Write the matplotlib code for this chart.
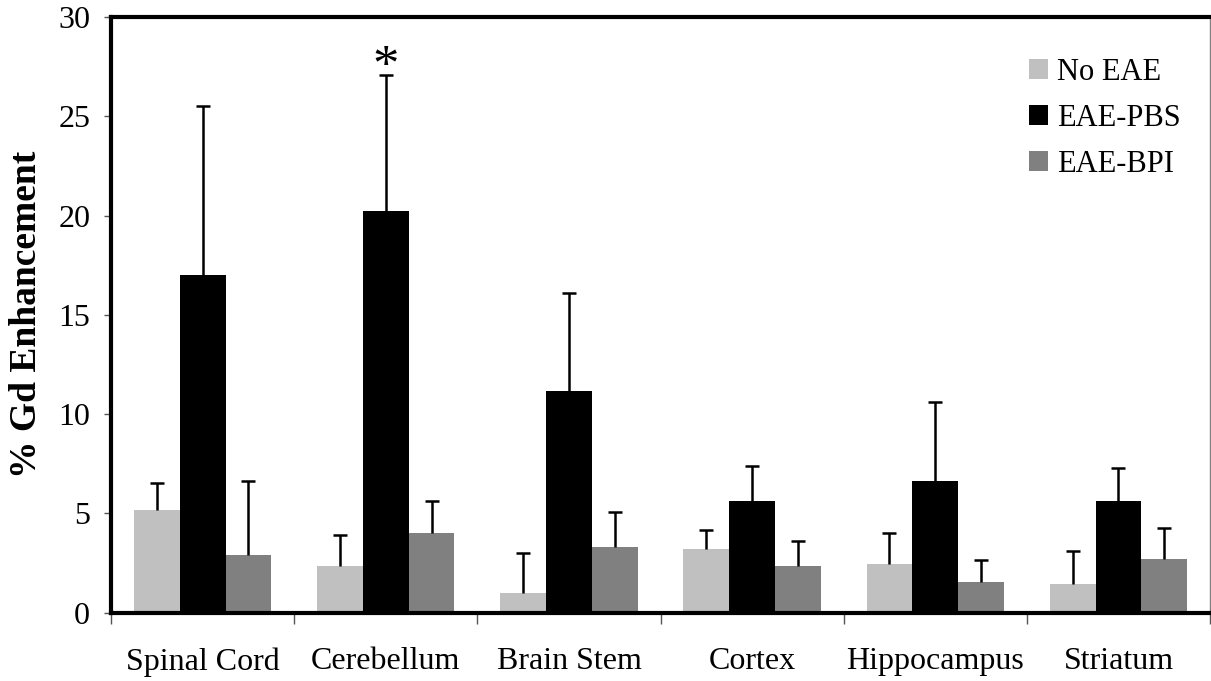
import matplotlib.pyplot as plt
import numpy as np

plt.rcParams['font.family'] = ['Liberation Serif', 'DejaVu Serif']

regions = ["Spinal Cord", "Cerebellum", "Brain Stem", "Cortex", "Hippocampus", "Striatum"]
groups = ["No EAE", "EAE-PBS", "EAE-BPI"]

# mean % Gd enhancement per region
no_eae = [5.17, 2.35, 0.99, 3.21, 2.45, 1.44]
eae_pbs = [17.0, 20.22, 11.16, 5.62, 6.63, 5.62]
eae_bpi = [2.90, 4.01, 3.31, 2.35, 1.55, 2.70]

# upper error bars (SD)
no_eae_err = [1.34, 1.54, 2.03, 0.97, 1.56, 1.68]
eae_pbs_err = [8.54, 6.86, 4.94, 1.76, 3.97, 1.68]
eae_bpi_err = [3.73, 1.63, 1.74, 1.26, 1.10, 1.58]

means = [no_eae, eae_pbs, eae_bpi]
errs = [no_eae_err, eae_pbs_err, eae_bpi_err]
colors = ['#c0c0c0', '#000000', '#808080']

fig = plt.figure(figsize=(12.11, 6.81), dpi=100)
ax = fig.add_axes([0.0917, 0.1003, 0.9075, 0.8747])

x = np.arange(len(regions)) + 0.5
w = 0.25
for k in range(3):
    pos = x + (k - 1) * w
    m = np.array(means[k])
    top = m + np.array(errs[k])
    ax.bar(pos, m, width=w, color=colors[k], label=groups[k], zorder=2)
    # only the upper half of each error bar is drawn
    ax.vlines(pos, m, top, colors='black', linewidth=1.8, zorder=3)
    ax.plot(pos, top, linestyle='none', marker='_', markersize=10,
            markeredgewidth=1.8, color='black', zorder=3)

# significance marker over cerebellum EAE-PBS
ax.annotate('*', xy=(x[1], eae_pbs[1] + eae_pbs_err[1]), xytext=(0, -12),
            textcoords='offset points', ha='center', va='bottom', fontsize=38)

ax.set_xlim(0, len(regions))
ax.set_ylim(0, 30)
ax.set_yticks(np.arange(0, 31, 5))
ax.set_xticks(x)
ax.set_xticklabels(regions, fontsize=23)
ax.set_xticks(np.arange(0, len(regions) + 1), minor=True)
ax.tick_params(axis='x', which='major', length=0, pad=25)
ax.tick_params(axis='x', which='minor', length=8, width=1, color='#555555', direction='out')
ax.tick_params(axis='y', labelsize=23, length=5, width=1, color='#555555',
               direction='out', pad=10)
ax.set_ylabel('% Gd Enhancement', fontsize=27, fontweight='bold', labelpad=10)

for s in ['left', 'bottom', 'top']:
    ax.spines[s].set_linewidth(3)
    ax.spines[s].set_color('black')
ax.spines['right'].set_linewidth(1)
ax.spines['right'].set_color('#808080')

ax.legend(loc='upper left', bbox_to_anchor=(1029 / 1211, 1 - 58 / 681),
          bbox_transform=fig.transFigure, borderaxespad=0, borderpad=0,
          frameon=False, fontsize=22, handlelength=0.62, handleheight=0.62,
          handletextpad=0.3, labelspacing=0.55)

fig.savefig('out.png', dpi=100)
